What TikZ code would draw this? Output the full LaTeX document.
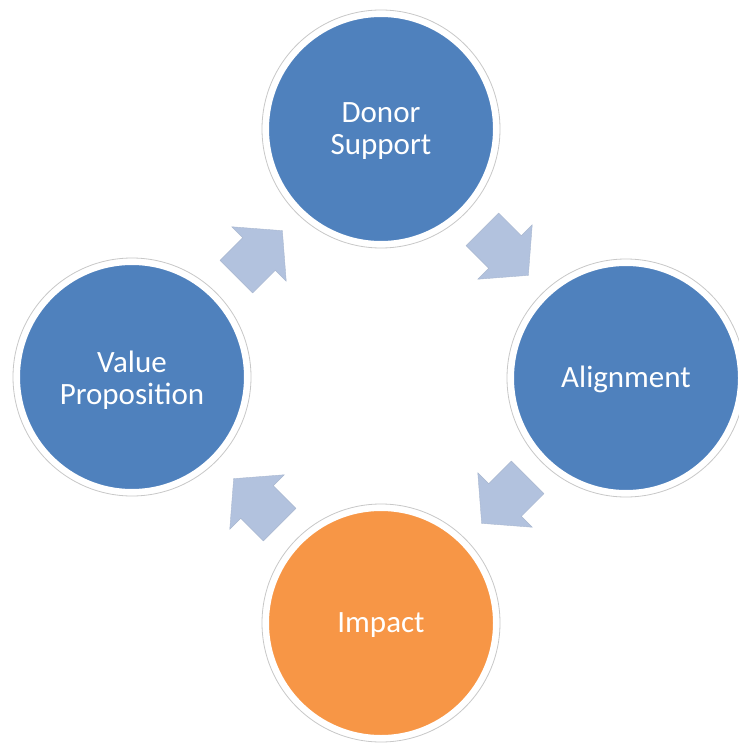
\documentclass[tikz,border=0pt]{standalone}
\usepackage{fontspec}
\setmainfont{Carlito}
\definecolor{stageblue}{HTML}{4F81BD}
\definecolor{stageorange}{HTML}{F79646}
\definecolor{flowarrow}{HTML}{B2C2DE}
\definecolor{ringgray}{HTML}{C8C8C8}
\tikzset{
  stage/.style={circle, fill=#1, draw=white, line width=5pt, minimum size=229pt,
    inner sep=0pt, text=white, align=center,
    font=\fontsize{31}{32}\selectfont},
  ring/.style={draw=ringgray, line width=0.8pt},
  flow/.style={fill=flowarrow, draw=flowarrow!85!gray, line width=0.4pt, line join=miter}
}
\begin{document}
\begin{tikzpicture}[x=1pt,y=-1pt]
  \useasboundingbox[fill=white] (0,0) rectangle (738,743);
  % the four stages of the cycle
  \node[stage=stageblue]   (donor) at (381,129) {};
  \node[stage=stageblue]   (align) at (626,378) {};
  \node[stage=stageorange] (impact) at (381,623) {};
  \node[stage=stageblue]   (value) at (132,377) {};
  % stage labels
  \node[text=white, align=center, font=\fontsize{31}{32}\selectfont] (donortext) at (381,131) {Donor\\Support};
  \node[text=white, font=\fontsize{31}{32}\selectfont] (aligntext) at (626,379) {Alignment};
  \node[text=white, font=\fontsize{31}{32}\selectfont] (impacttext) at (381,625) {Impact};
  \node[text=white, align=center, font=\fontsize{31}{32}\selectfont] (valuetext) at (132,380) {Value\\Proposition};
  % faint outer rings
  \foreach \s in {donor,align,impact,value}
    \draw[ring] (\s.center) circle[radius=119];
  % block arrows between the stages (local frame: tail at -32, tip at +33)
  \foreach \cx/\cy/\ang in {259/254/45, 505/252/-45, 505/500/-135, 257/502/135}
    \filldraw[flow, shift={(\cx,\cy)}, rotate=\ang]
      (-32,-23) -- (0,-23) -- (0,-38.5) -- (33,0) -- (0,38.5) -- (0,23) -- (-32,23) -- cycle;
\end{tikzpicture}
\end{document}
